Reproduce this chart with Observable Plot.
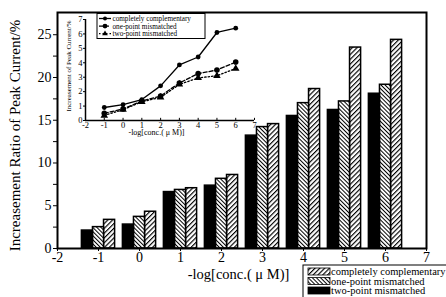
<!DOCTYPE html>
<html><head><meta charset="utf-8">
<script src="https://cdn.jsdelivr.net/npm/d3@7"></script>
<script src="https://cdn.jsdelivr.net/npm/@observablehq/plot@0.6"></script>
<style>
body{margin:0;background:#fff;}
#wrap{position:relative;width:446px;height:297px;overflow:hidden;font-family:"Liberation Serif",serif;}
#inset{position:absolute;left:58px;top:13px;}
</style></head><body><div id="wrap"><div id="main"></div><div id="inset"></div></div>
<script>
const concs = [-1, 0, 1, 2, 3, 4, 5, 6];
const seriesNames = ["completely complementary", "one-point mismatched", "two-point mismatched"];
// main bar chart values (%)
const barComplete = [3.35, 4.3, 7.05, 8.6, 14.55, 18.65, 23.5, 24.4];
const barOnePoint = [2.5, 3.7, 6.85, 8.15, 14.2, 17.0, 17.2, 19.15];
const barTwoPoint = [2.1, 2.8, 6.6, 7.35, 13.2, 15.5, 16.2, 18.1];
// inset line chart values (%)
const insetComplete = [0.9, 1.1, 1.45, 2.4, 3.85, 4.4, 6.1, 6.4];
const insetOnePoint = [0.5, 0.8, 1.35, 1.7, 2.6, 3.25, 3.5, 4.05];
const insetTwoPoint = [0.35, 0.75, 1.3, 1.6, 2.5, 2.95, 3.1, 3.6];
const xTicks = [-2, -1, 0, 1, 2, 3, 4, 5, 6, 7];
const yTicks = [0, 2.5, 5, 7.5, 10, 12.5, 15, 17.5, 20, 22.5, 25];
const insetYTicks = [0, 1, 2, 3, 4, 5, 6, 7];
const xLabel = "-log[conc.( \u03bc M)]";
const yLabel = "Increasement Ratio of Peak Current/%";
const insetYLabel = "Increasement of Peak Current/%";

const font = "Liberation Serif";
const fills = ["url(#hatchFwd)", "url(#hatchBack)", "black"];
const barSets = [barComplete, barOnePoint, barTwoPoint];
const slot = [1, 0, -1]; // position within group: two-point left, one-point middle, complete right
const bw = 0.27;

const barMarks = barSets.map((vals, si) => {
  const rows = concs.map((c, i) => ({x: c, v: vals[i]}));
  return Plot.rectY(rows, {
    x1: d => d.x + slot[si] * bw - bw / 2,
    x2: d => d.x + slot[si] * bw + bw / 2,
    y1: 0, y2: "v",
    fill: fills[si], stroke: "black", strokeWidth: 1.5
  });
});

const main = Plot.plot({
  width: 446, height: 297,
  marginLeft: 57, marginRight: 20, marginTop: 12, marginBottom: 49,
  x: {domain: [-2, 7]},
  y: {domain: [0, 27.6]},
  style: {fontFamily: font, fontSize: "14px", color: "black", background: "white"},
  marks: [
    ...barMarks,
    Plot.axisX({ticks: xTicks, tickSize: 3, tickPadding: 1, tickFormat: d => String(d), label: null, fontSize: 14}),
    Plot.axisY({ticks: yTicks, tickSize: 4, tickPadding: 2, tickFormat: d => d % 5 === 0 ? String(d) : "", label: null, fontSize: 14}),
    Plot.frame({strokeWidth: 2}),
    Plot.text([xLabel], {frameAnchor: "bottom", dy: 30, dx: -3.5, fontSize: 14.5}),
    Plot.text([yLabel], {frameAnchor: "left", textAnchor: "middle", rotate: -90, dx: -42, dy: 5, fontSize: 15})
  ]
});

const svg = d3.select(main);
const defs = svg.insert("defs", ":first-child");
function hatch(id, angle, size, sw) {
  const p = defs.append("pattern").attr("id", id).attr("patternUnits", "userSpaceOnUse")
    .attr("width", size).attr("height", size).attr("patternTransform", `rotate(${angle})`);
  p.append("rect").attr("width", size).attr("height", size).attr("fill", "white");
  p.append("line").attr("x1", 0).attr("y1", 0).attr("x2", 0).attr("y2", size)
    .attr("stroke", "black").attr("stroke-width", sw);
}
hatch("hatchFwd", 45, 3.4, 2.3);
hatch("hatchBack", -45, 2.9, 2.0);

// main legend
const lg = svg.append("g").attr("transform", "translate(303,265)").attr("font-family", font)
  .attr("font-size", 10.5).attr("text-anchor", "start");
lg.append("rect").attr("x", 0).attr("y", 0).attr("width", 150).attr("height", 40).attr("fill", "white").attr("stroke", "black").attr("stroke-width", 1);
seriesNames.forEach((name, i) => {
  const y = 3 + i * 9.5;
  lg.append("rect").attr("x", 5).attr("y", y).attr("width", 22).attr("height", 7)
    .attr("fill", fills[i]).attr("stroke", "black").attr("stroke-width", 0.8);
  lg.append("text").attr("x", 28).attr("y", y + 7).attr("text-anchor", "start").text(name);
});
document.getElementById("main").appendChild(main);

// inset
const insetSets = [insetComplete, insetOnePoint, insetTwoPoint];
const dashes = [null, "4,2", "1.5,2"];
const symbols = ["circle", "circle", "triangle"];
const radii = [2.4, 2.8, 2.8];
const insetMarks = [];
insetSets.forEach((vals, si) => {
  const rows = concs.map((c, i) => ({x: c, v: vals[i]}));
  insetMarks.push(Plot.line(rows, {x: "x", y: "v", stroke: "black", strokeWidth: 1.3, strokeDasharray: dashes[si]}));
  insetMarks.push(Plot.dot(rows, {x: "x", y: "v", fill: "black", r: radii[si], symbol: symbols[si]}));
});
const inset = Plot.plot({
  width: 202, height: 130,
  marginLeft: 27, marginRight: 6, marginTop: 6, marginBottom: 23,
  x: {domain: [-2, 7]},
  y: {domain: [0, 7]},
  style: {fontFamily: font, fontSize: "8px", color: "black", background: "transparent"},
  marks: [
    Plot.ruleY([0], {strokeWidth: 1.5}),
    Plot.ruleX([-2], {strokeWidth: 1.5}),
    Plot.ruleX(xTicks, {x: d => d, y1: 0, y2: 0.15, strokeWidth: 1}),
    Plot.axisX({ticks: xTicks, tickSize: 0, tickPadding: 1, tickFormat: d => String(d), label: null, fontSize: 8.5}),
    Plot.axisY({ticks: insetYTicks, tickSize: 2, tickPadding: 1, tickFormat: d => String(d), label: null, fontSize: 8.5}),
    ...insetMarks,
    Plot.text([xLabel], {frameAnchor: "bottom", dy: 14.5, dx: -13.5, fontSize: 8}),
    Plot.text([insetYLabel], {frameAnchor: "left", textAnchor: "middle", rotate: -90, dx: -17, dy: -4, fontSize: 7})
  ]
});
const isvg = d3.select(inset);
const il = isvg.append("g").attr("transform", "translate(39,0.5)").attr("font-family", font)
  .attr("font-size", 7.2).attr("text-anchor", "start");
il.append("rect").attr("width", 108).attr("height", 25).attr("fill", "white").attr("stroke", "black").attr("stroke-width", 1);
seriesNames.forEach((name, i) => {
  const y = 5 + i * 7.6;
  il.append("line").attr("x1", 2).attr("x2", 14).attr("y1", y).attr("y2", y)
    .attr("stroke", "black").attr("stroke-width", 1.3).attr("stroke-dasharray", dashes[i]);
  if (symbols[i] === "circle") il.append("circle").attr("cx", 8).attr("cy", y).attr("r", radii[i] - 0.4).attr("fill", "black");
  else il.append("path").attr("d", d3.symbol(d3.symbolTriangle, 14)()).attr("transform", `translate(8,${y})`).attr("fill", "black");
  il.append("text").attr("x", 15.5).attr("y", y + 2.4).attr("text-anchor", "start").text(name);
});
document.getElementById("inset").appendChild(inset);
</script></body></html>
